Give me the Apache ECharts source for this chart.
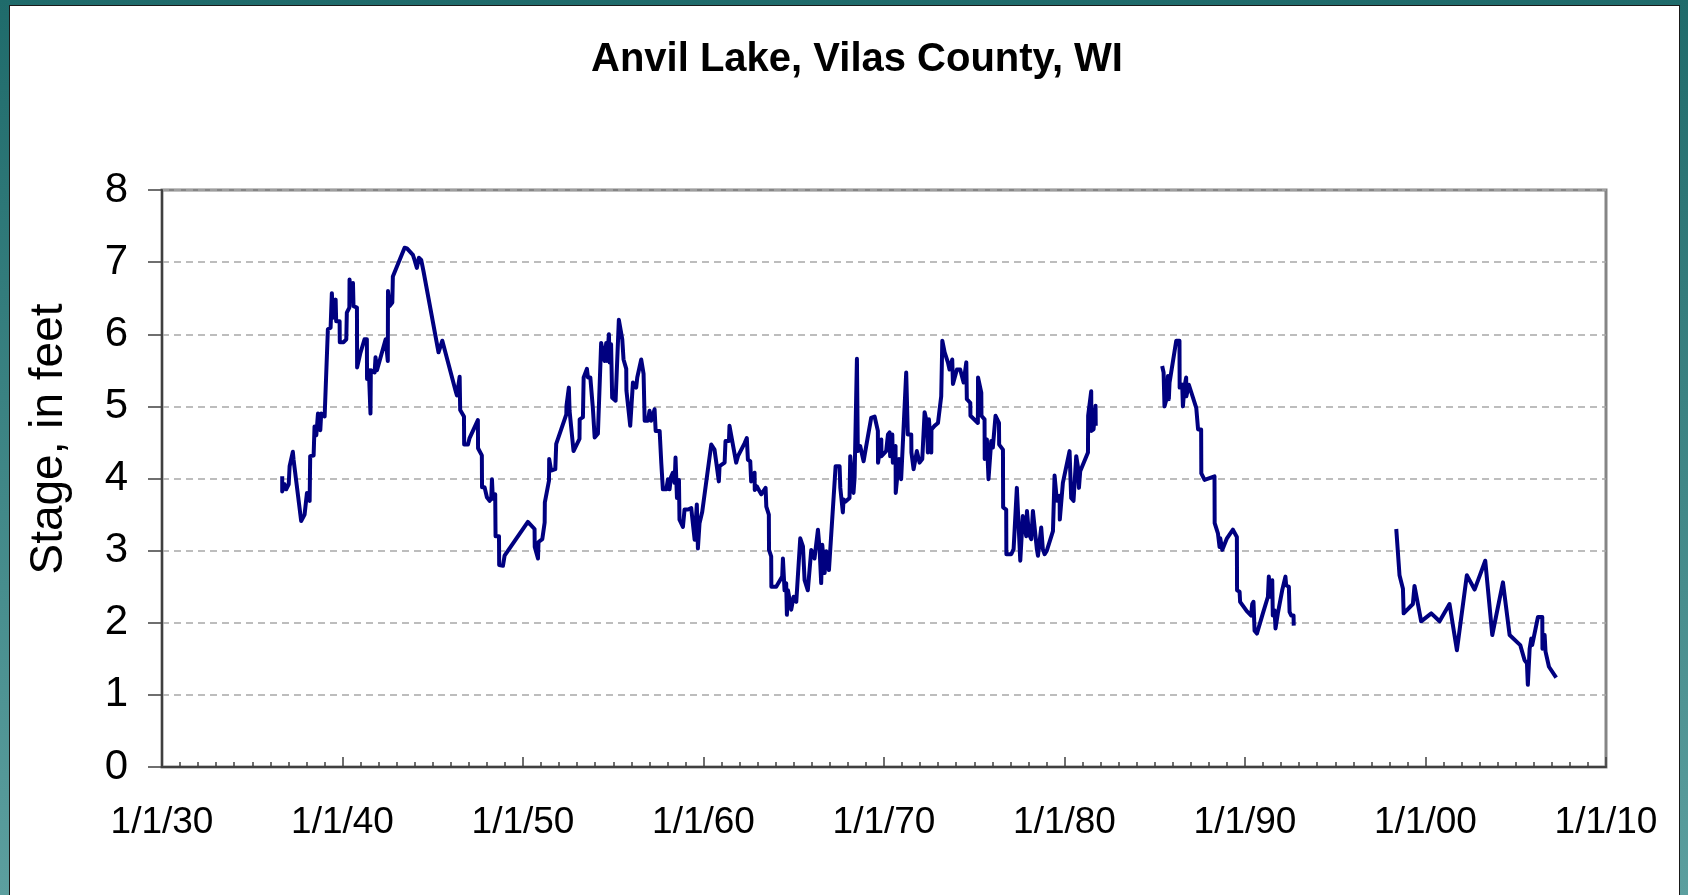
<!DOCTYPE html>
<html>
<head>
<meta charset="utf-8">
<script src="https://cdn.jsdelivr.net/npm/echarts@6/dist/echarts.min.js"></script>
<style>
  html, body { margin: 0; padding: 0; width: 1688px; height: 895px; overflow: hidden; }
  body { background: linear-gradient(#1f6b6b, #5c9f9f); position: relative; }
  .panel {
    position: absolute; left: 9px; top: 5px; right: 8px; bottom: -2px;
    background: #fff; border: 1px solid #1a1a1a;
  }
  #chart { position: absolute; left: 0; top: 0; width: 1688px; height: 895px; }
</style>
</head>
<body>
<div class="panel"></div>
<div id="chart"></div>
<script>
// lake stage readings, decimal year / feet; three records with gaps between
const yearsA = [
  1936.66, 1936.66, 1936.79, 1936.88, 1937.02, 1937.07, 1937.25, 1937.29, 1937.71, 1937.81,
  1937.90, 1938.03, 1938.18, 1938.21, 1938.40, 1938.45, 1938.55, 1938.64, 1938.77, 1938.82,
  1939.01, 1939.19, 1939.34, 1939.41, 1939.47, 1939.62, 1939.65, 1939.84, 1939.85, 1940.06,
  1940.21, 1940.24, 1940.38, 1940.39, 1940.48, 1940.58, 1940.61, 1940.80, 1940.81, 1940.98,
  1941.22, 1941.35, 1941.36, 1941.46, 1941.55, 1941.57, 1941.78, 1941.83, 1941.91, 1942.02,
  1942.39, 1942.51, 1942.52, 1942.61, 1942.76, 1942.79, 1943.44, 1943.57, 1943.90, 1943.99,
  1944.12, 1944.23, 1944.36, 1944.49, 1945.32, 1945.53, 1946.26, 1946.34, 1946.49, 1946.52,
  1946.73, 1946.74, 1946.95, 1947.04, 1947.50, 1947.51, 1947.72, 1947.73, 1947.87, 1948.00,
  1948.15, 1948.24, 1948.28, 1948.33, 1948.46, 1948.48, 1948.67, 1948.68, 1948.89, 1948.98,
  1950.27, 1950.64, 1950.65, 1950.83, 1950.86, 1951.07, 1951.20, 1951.21, 1951.44, 1951.45,
  1951.56, 1951.79, 1951.84, 1952.40, 1952.41, 1952.54, 1952.58, 1952.80, 1953.13, 1953.14,
  1953.32, 1953.36, 1953.54, 1953.60, 1953.73, 1953.87, 1953.97, 1954.15, 1954.33, 1954.43,
  1954.52, 1954.61, 1954.65, 1954.76, 1954.80, 1954.88, 1954.94, 1955.13, 1955.31, 1955.50,
  1955.57, 1955.72, 1955.73, 1955.94, 1956.09, 1956.27, 1956.33, 1956.55, 1956.68, 1956.74,
  1956.92, 1957.01, 1957.10, 1957.29, 1957.35, 1957.57, 1957.66, 1957.75, 1957.94, 1958.03,
  1958.12, 1958.20, 1958.30, 1958.40, 1958.45, 1958.53, 1958.64, 1958.67, 1958.86, 1958.95,
  1959.14, 1959.32, 1959.41, 1959.51, 1959.56, 1959.63, 1959.69, 1959.78, 1959.93, 1960.43,
  1960.61, 1960.71, 1960.85, 1960.89, 1961.17, 1961.22, 1961.41, 1961.44, 1961.54, 1961.63,
  1961.81, 1961.91, 1962.28, 1962.40, 1962.46, 1962.59, 1962.64, 1962.83, 1962.84, 1962.96,
  1963.20, 1963.44, 1963.48, 1963.62, 1963.63, 1963.75, 1963.76, 1964.03, 1964.36, 1964.40,
  1964.49, 1964.58, 1964.62, 1964.68, 1964.77, 1964.86, 1964.99, 1965.14, 1965.36, 1965.51,
  1965.60, 1965.78, 1965.97, 1966.06, 1966.15, 1966.34, 1966.43, 1966.52, 1966.58, 1966.71,
  1966.80, 1966.95, 1967.32, 1967.54, 1967.58, 1967.72, 1967.76, 1967.87, 1968.09, 1968.13,
  1968.31, 1968.37, 1968.50, 1968.55, 1968.68, 1968.87, 1968.98, 1969.29, 1969.48, 1969.66,
  1969.67, 1969.85, 1969.86, 1970.12, 1970.22, 1970.31, 1970.34, 1970.46, 1970.49, 1970.64,
  1970.65, 1970.83, 1970.95, 1971.01, 1971.23, 1971.32, 1971.51, 1971.52, 1971.64, 1971.82,
  1971.97, 1972.12, 1972.25, 1972.38, 1972.43, 1972.49, 1972.62, 1972.63, 1972.80, 1972.99,
  1973.17, 1973.23, 1973.36, 1973.54, 1973.63, 1973.78, 1973.82, 1974.04, 1974.22, 1974.41,
  1974.56, 1974.59, 1974.78, 1974.79, 1975.20, 1975.21, 1975.39, 1975.40, 1975.57, 1975.58,
  1975.70, 1975.79, 1975.94, 1976.03, 1976.18, 1976.37, 1976.38, 1976.59, 1976.60, 1976.77,
  1976.78, 1977.05, 1977.18, 1977.36, 1977.55, 1977.69, 1977.88, 1977.92, 1978.03, 1978.16,
  1978.25, 1978.34, 1978.47, 1978.53, 1978.71, 1978.80, 1978.90, 1979.02, 1979.36, 1979.45,
  1979.58, 1979.73, 1979.74, 1979.91, 1980.28, 1980.37, 1980.50, 1980.65, 1980.74, 1980.80,
  1980.87, 1981.30, 1981.31, 1981.48, 1981.49, 1981.61, 1981.72, 1981.73
]
const stageA = [
  4.03, 3.82, 3.92, 3.85, 3.92, 4.17, 4.37, 4.26, 3.41, 3.39,
  3.50, 3.80, 3.69, 4.31, 4.32, 4.72, 4.60, 4.90, 4.67, 4.90,
  4.86, 6.07, 6.09, 6.57, 6.23, 6.48, 6.18, 6.18, 5.89, 5.89,
  5.93, 6.30, 6.37, 6.76, 6.46, 6.71, 6.39, 6.37, 5.54, 5.73,
  5.93, 5.93, 5.38, 5.50, 4.90, 5.50, 5.47, 5.68, 5.50, 5.50,
  5.93, 5.63, 6.60, 6.39, 6.44, 6.80, 7.20, 7.19, 7.10, 7.03,
  6.92, 7.06, 7.03, 6.87, 5.75, 5.91, 5.22, 5.15, 5.41, 4.95,
  4.86, 4.47, 4.47, 4.56, 4.81, 4.42, 4.32, 3.88, 3.88, 3.74,
  3.69, 3.72, 3.99, 3.72, 3.78, 3.20, 3.20, 2.80, 2.79, 2.93,
  3.40, 3.30, 3.05, 2.89, 3.12, 3.16, 3.39, 3.67, 3.97, 4.27,
  4.11, 4.13, 4.48, 4.89, 5.01, 5.26, 4.94, 4.38, 4.55, 4.82,
  4.85, 5.40, 5.52, 5.40, 5.40, 4.98, 4.57, 4.62, 5.88, 5.88,
  5.63, 5.88, 5.63, 6.00, 5.61, 5.86, 5.12, 5.08, 6.20, 5.93,
  5.65, 5.52, 5.22, 4.73, 5.33, 5.26, 5.40, 5.65, 5.45, 4.80,
  4.80, 4.94, 4.80, 4.96, 4.66, 4.66, 4.22, 3.85, 3.85, 3.99,
  3.85, 4.02, 4.08, 3.94, 4.29, 3.73, 3.98, 3.43, 3.33, 3.57,
  3.57, 3.59, 3.38, 3.15, 3.15, 3.64, 3.03, 3.38, 3.54, 4.47,
  4.40, 4.22, 3.96, 4.17, 4.22, 4.52, 4.52, 4.73, 4.59, 4.61,
  4.22, 4.31, 4.49, 4.56, 4.26, 4.24, 3.96, 4.08, 3.84, 3.89,
  3.78, 3.87, 3.61, 3.50, 3.01, 2.92, 2.50, 2.50, 2.64, 2.89,
  2.45, 2.55, 2.11, 2.45, 2.32, 2.18, 2.36, 2.29, 3.17, 3.06,
  2.59, 2.45, 3.01, 2.99, 2.89, 3.29, 3.03, 2.55, 3.08, 2.69,
  2.99, 2.73, 4.17, 4.17, 3.87, 3.53, 3.71, 3.68, 3.73, 4.31,
  3.80, 4.01, 5.66, 4.38, 4.45, 4.24, 4.40, 4.84, 4.86, 4.66,
  4.22, 4.54, 4.31, 4.38, 4.61, 4.64, 4.31, 4.61, 4.22, 4.45,
  3.80, 4.27, 3.99, 4.01, 5.47, 4.61, 4.61, 4.36, 4.13, 4.38,
  4.22, 4.27, 4.92, 4.77, 4.36, 4.82, 4.36, 4.68, 4.73, 4.77,
  5.14, 5.91, 5.75, 5.61, 5.51, 5.65, 5.31, 5.51, 5.51, 5.33,
  5.61, 5.10, 5.05, 4.87, 4.77, 5.40, 5.19, 4.87, 4.82, 4.27,
  4.54, 3.99, 4.52, 4.43, 4.87, 4.77, 4.47, 4.40, 3.60, 3.57,
  2.95, 2.95, 3.02, 3.87, 2.86, 3.48, 3.20, 3.55, 3.23, 3.16,
  3.55, 3.57, 3.02, 2.93, 3.32, 3.02, 2.95, 3.00, 3.27, 4.04,
  3.69, 3.76, 3.43, 3.94, 4.38, 3.73, 3.69, 4.31, 4.17, 3.87,
  4.10, 4.36, 4.87, 5.21, 4.66, 4.68, 5.01, 4.73
]
const yearsB = [
  1985.41, 1985.49, 1985.54, 1985.67, 1985.73, 1985.78, 1985.82, 1986.19, 1986.37, 1986.38,
  1986.52, 1986.56, 1986.65, 1986.74, 1986.75, 1986.89, 1987.30, 1987.39, 1987.40, 1987.57,
  1987.58, 1987.76, 1988.31, 1988.32, 1988.50, 1988.59, 1988.63, 1988.74, 1989.00, 1989.33,
  1989.55, 1989.56, 1989.70, 1989.73, 1990.10, 1990.34, 1990.40, 1990.47, 1990.53, 1990.66,
  1990.99, 1991.27, 1991.32, 1991.40, 1991.51, 1991.54, 1991.64, 1991.69, 1991.82, 1992.06,
  1992.24, 1992.28, 1992.43, 1992.47, 1992.56, 1992.69, 1992.70
]
const stageB = [
  5.56, 5.47, 5.00, 5.12, 5.42, 5.10, 5.33, 5.91, 5.91, 5.26,
  5.30, 5.00, 5.28, 5.40, 5.14, 5.30, 4.98, 4.96, 4.68, 4.68,
  4.07, 3.98, 4.03, 3.38, 3.24, 3.05, 3.17, 3.01, 3.17, 3.29,
  3.19, 2.45, 2.43, 2.29, 2.16, 2.10, 2.26, 2.29, 1.89, 1.85,
  2.13, 2.36, 2.64, 2.36, 2.59, 2.10, 2.17, 1.92, 2.13, 2.45,
  2.64, 2.52, 2.50, 2.15, 2.10, 2.10, 1.96
]
const yearsC = [
  1998.38, 1998.56, 1998.75, 1998.79, 1999.30, 1999.39, 1999.76, 2000.32, 2000.78, 2001.33,
  2001.74, 2002.29, 2002.72, 2003.31, 2003.70, 2004.29, 2004.66, 2005.25, 2005.49, 2005.62,
  2005.67, 2005.77, 2005.86, 2005.91, 2006.23, 2006.47, 2006.48, 2006.60, 2006.65, 2006.84,
  2007.24
]
const stageC = [
  3.30, 2.66, 2.47, 2.13, 2.26, 2.51, 2.02, 2.13, 2.02, 2.26,
  1.62, 2.66, 2.46, 2.86, 1.83, 2.56, 1.83, 1.69, 1.48, 1.44,
  1.14, 1.64, 1.78, 1.69, 2.08, 2.08, 1.64, 1.83, 1.60, 1.39,
  1.24
]
const xTicks = [1930, 1940, 1950, 1960, 1970, 1980, 1990, 2000, 2010]

const pairs = (xs, ys) => xs.map((x, i) => [x, ys[i]])
const lineData = [
  ...pairs(yearsA, stageA), [1983.5, '-'],
  ...pairs(yearsB, stageB), [1995.5, '-'],
  ...pairs(yearsC, stageC)
]

const font = 'Liberation Sans, Arial, sans-serif'
const chart = echarts.init(document.getElementById('chart'))
chart.setOption({
  backgroundColor: 'transparent',
  animation: false,
  title: {
    text: 'Anvil Lake, Vilas County, WI',
    left: 852, top: 35,
    textAlign: 'center',
    textStyle: { fontFamily: font, fontSize: 40, fontWeight: 'bold', color: '#000' }
  },
  graphic: [{
    type: 'text',
    x: 49, y: 439,
    rotation: Math.PI / 2,
    style: {
      text: 'Stage, in feet',
      fontFamily: font, fontSize: 46, fill: '#000',
      textAlign: 'center', textVerticalAlign: 'middle'
    }
  }],
  grid: {
    left: 162, right: 82, top: 190, bottom: 128,
    show: true, borderColor: '#858585', borderWidth: 3
  },
  xAxis: [
    {
      type: 'value',
      min: xTicks[0], max: xTicks[xTicks.length - 1], interval: 10,
      axisLine: { onZero: false, lineStyle: { color: '#404040', width: 2 } },
      axisTick: { inside: true, length: 7, lineStyle: { color: '#404040', width: 1.5 } },
      minorTick: { show: true, splitNumber: 10, length: 5, lineStyle: { color: '#404040', width: 1.5 } },
      splitLine: { show: false },
      axisLabel: {
        margin: 37, fontFamily: font, fontSize: 37, color: '#000',
        formatter: v => '1/1/' + String(v % 100).padStart(2, '0')
      }
    },
    {
      type: 'value',
      min: xTicks[0], max: xTicks[xTicks.length - 1], interval: 10,
      axisLine: { show: false },
      axisTick: { inside: false, length: 10, lineStyle: { color: '#404040', width: 1.5 } },
      axisLabel: { show: false },
      splitLine: { show: false }
    }
  ],
  yAxis: {
    type: 'value',
    min: 0, max: 8, interval: 1,
    axisLine: { show: true, lineStyle: { color: '#404040', width: 2 } },
    axisTick: { show: true, length: 14, lineStyle: { color: '#404040', width: 1.5 } },
    axisLabel: { margin: 34, fontFamily: font, fontSize: 42, color: '#000' },
    splitLine: { lineStyle: { color: '#a8a8a8', width: 1.5, type: [7, 5] } }
  },
  series: [{
    type: 'line',
    xAxisIndex: 0,
    data: lineData,
    showSymbol: false,
    connectNulls: false,
    lineStyle: { color: '#000080', width: 4, join: 'round' },
    itemStyle: { color: '#000080' }
  }]
})
</script>
</body>
</html>
